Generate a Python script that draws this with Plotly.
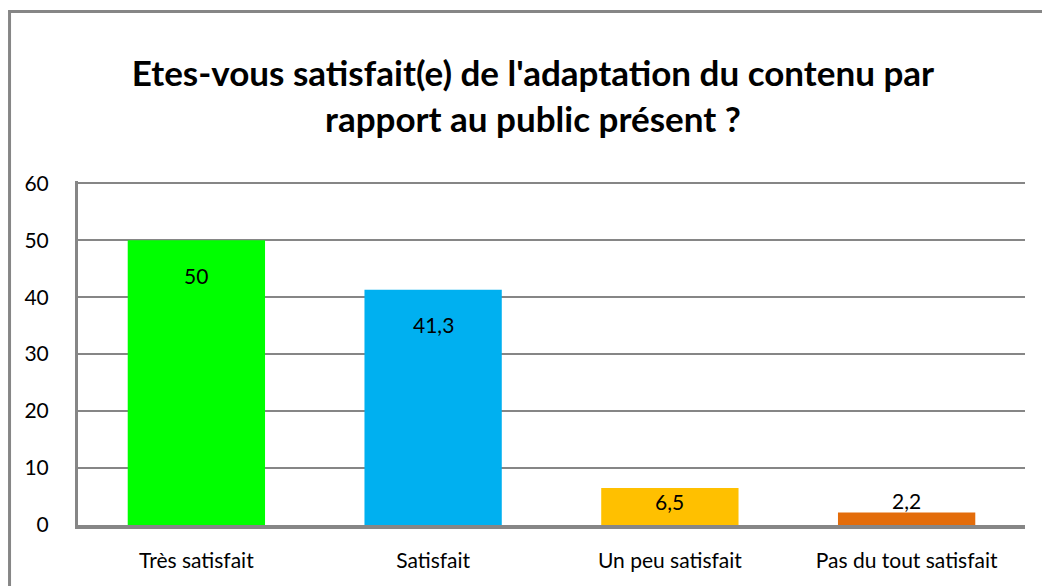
import plotly.graph_objects as go

categories = ["Très satisfait", "Satisfait", "Un peu satisfait", "Pas du tout satisfait"]
values = [50, 41.3, 6.5, 2.2]
labels = ["50", "41,3", "6,5", "2,2"]
colors = ["#00FF00", "#00B0F0", "#FFC000", "#E36C0A"]
label_shift = [-35, -35, -14, 12]
yticks = [0, 10, 20, 30, 40, 50, 60]

FONT = "Lato"
fig = go.Figure()
fig.add_trace(go.Bar(x=categories, y=values, marker=dict(color=colors, line=dict(width=0)),
                     width=0.58, hoverinfo="skip"))
for c, v, t, s in zip(categories, values, labels, label_shift):
    fig.add_annotation(x=c, y=v, text=t, showarrow=False, yshift=s, yanchor="middle",
                       font=dict(family=FONT, size=21, color="#000000"))

fig.update_layout(
    width=1042, height=586,
    margin=dict(l=78, r=17, t=181, b=61),
    paper_bgcolor="white", plot_bgcolor="white",
    showlegend=False,
    title=dict(text="<b>Etes-vous satisfait(e) de l'adaptation du contenu par<br>rapport au public présent ?</b>",
               x=0.5115, xanchor="center", y=0.853, yanchor="middle",
               font=dict(family=FONT, size=35, color="#000000")),
    xaxis=dict(showline=True, linecolor="#868686", linewidth=4, showgrid=False, ticks="",
               tickfont=dict(family=FONT, size=21, color="#000000"), ticklabelstandoff=14),
    yaxis=dict(range=[0, 60.4], tickvals=yticks, showline=True, linecolor="#868686", linewidth=3,
               showgrid=True, gridcolor="#868686", gridwidth=2, zeroline=False, ticks="",
               tickfont=dict(family=FONT, size=21, color="#000000"), ticklabelstandoff=22),
    bargap=0.42,
)
fig.add_shape(type="path", xref="paper", yref="paper",
              path="M -0.0723 -0.3 L -0.0723 1.4927 L 1.1 1.4927",
              line=dict(color="#868686", width=3))
fig.write_html("out.html", config={"displayModeBar": False})

with open("out.html", "r", encoding="utf-8") as f:
    html = f.read()
html = html.replace("<body>", '<body style="margin:0;overflow:hidden">', 1)
with open("out.html", "w", encoding="utf-8") as f:
    f.write(html)
